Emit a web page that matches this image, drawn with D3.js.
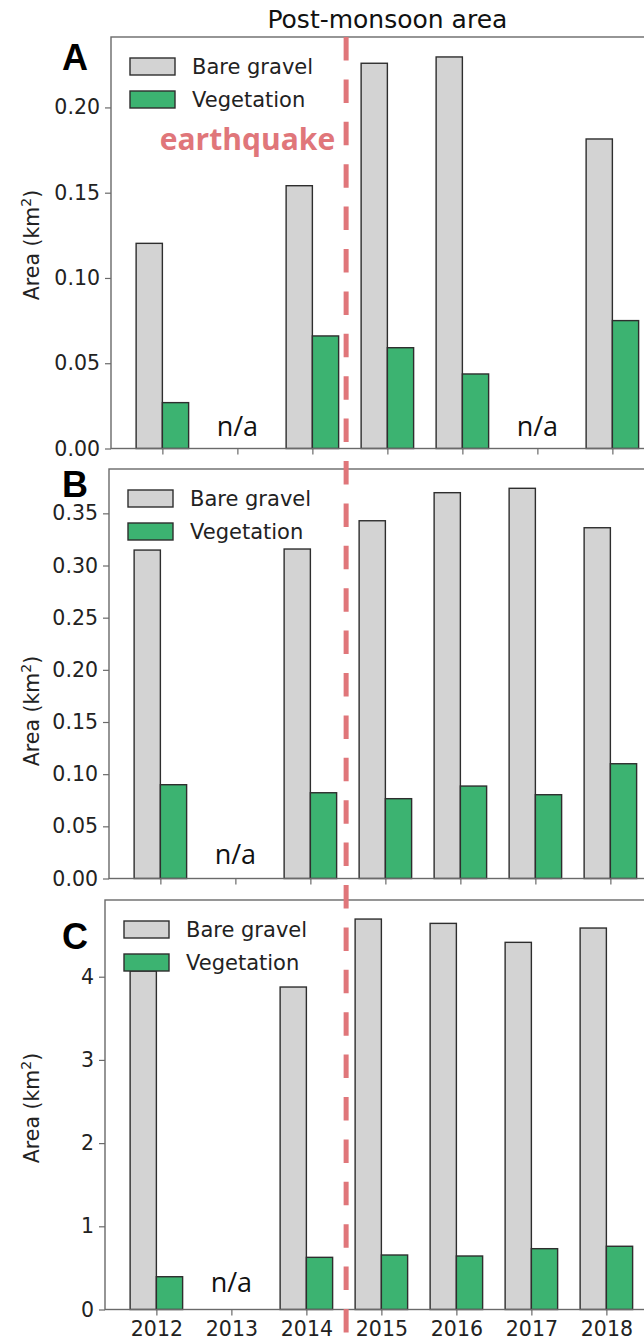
<!DOCTYPE html>
<html>
<head>
<meta charset="utf-8">
<script src="https://cdn.jsdelivr.net/npm/d3@7"></script>
<style>
  html, body { margin: 0; padding: 0; background: #fff; }
  svg { display: block; }
</style>
</head>
<body>
<svg id="chart" width="644" height="1340"></svg>
<script>
// Survey years
const years = [2012, 2013, 2014, 2015, 2016, 2017, 2018];
const seriesNames = ["Bare gravel", "Vegetation"];

// Panel A: post-monsoon area (km²); null = no survey
const gravelA = [0.1203, null, 0.1541, 0.2259, 0.2296, null, 0.1815];
const vegA    = [0.0269, null, 0.0660, 0.0591, 0.0437, null, 0.0750];
// Panel B
const gravelB = [0.3148, null, 0.3158, 0.3429, 0.3698, 0.3740, 0.3362];
const vegB    = [0.0899, null, 0.0822, 0.0765, 0.0886, 0.0803, 0.1100];
// Panel C
const gravelC = [4.068, null, 3.876, 4.693, 4.641, 4.413, 4.585];
const vegC    = [0.394, null, 0.627, 0.655, 0.643, 0.731, 0.760];

// Y tick values per panel
const ticksA = [0, 0.05, 0.10, 0.15, 0.20];
const ticksB = [0, 0.05, 0.10, 0.15, 0.20, 0.25, 0.30, 0.35];
const ticksC = [0, 1, 2, 3, 4];

// Years with no data
const naA = [2013, 2017];
const naB = [2013];
const naC = [2013];

const panelLetters = ["A", "B", "C"];
const titleText = "Post-monsoon area";
const eventLabel = "earthquake";
const eventYear = 2014.45;

const GRAY = "#d3d3d3", GREEN = "#3cb371", EDGE = "#2e2e2e", SPINE = "#6a6a6a";
const EQ_COLOR = "#e0767a";
const TICK_FONT = "'DejaVu Sans', sans-serif";

const panels = [
  { letter: panelLetters[0], gravel: gravelA, veg: vegA, ticks: ticksA, na: naA,
    yMax: 0.2413, top: 37, base: 448.5, axisX: 111, fmt: d3.format(".2f"),
    showYears: false, labelY: 245, naOff: 12.5, letterY: 70 },
  { letter: panelLetters[1], gravel: gravelB, veg: vegB, ticks: ticksB, na: naB,
    yMax: 0.3925, top: 469, base: 878.5, axisX: 109, fmt: d3.format(".2f"),
    showYears: false, labelY: 711, naOff: 14.5, letterY: 497 },
  { letter: panelLetters[2], gravel: gravelC, veg: vegC, ticks: ticksC, na: naC,
    yMax: 4.922, top: 900, base: 1309.5, axisX: 105, fmt: d3.format("d"),
    showYears: true, labelY: 1108, naOff: 17.5, letterY: 949 }
];

const svg = d3.select("#chart");
svg.append("rect").attr("width", 644).attr("height", 1340).attr("fill", "#fff");

const BAR_W = 0.35;          // bar width in year units
const PX_PER_YEAR = 75;
const pad = 0.685;           // x padding beyond first/last bar centre

panels.forEach((p) => {
  const x = d3.scaleLinear()
    .domain([years[0] - pad, years[years.length - 1] + pad])
    .range([p.axisX, p.axisX + PX_PER_YEAR * (years[years.length - 1] - years[0] + 2 * pad)]);
  const y = d3.scaleLinear().domain([0, p.yMax]).range([p.base, p.top]);
  p.x = x;

  const g = svg.append("g");

  // bars
  const rows = years.map((yr, i) => ({ yr, gravel: p.gravel[i], veg: p.veg[i] }));
  g.selectAll("rect.gravel").data(rows.filter(d => d.gravel != null)).join("rect")
    .attr("class", "gravel")
    .attr("x", d => x(d.yr - BAR_W)).attr("width", d => x(d.yr) - x(d.yr - BAR_W))
    .attr("y", d => y(d.gravel)).attr("height", d => y(0) - y(d.gravel))
    .attr("fill", GRAY).attr("stroke", EDGE).attr("stroke-width", 1.4);
  g.selectAll("rect.veg").data(rows.filter(d => d.veg != null)).join("rect")
    .attr("class", "veg")
    .attr("x", d => x(d.yr)).attr("width", d => x(d.yr + BAR_W) - x(d.yr))
    .attr("y", d => y(d.veg)).attr("height", d => y(0) - y(d.veg))
    .attr("fill", GREEN).attr("stroke", EDGE).attr("stroke-width", 1.4);

  // frame (left, top, bottom spines; right spine falls outside the page)
  const xr = x.range();
  g.append("rect").attr("x", xr[0]).attr("y", p.top)
    .attr("width", xr[1] - xr[0]).attr("height", p.base - p.top)
    .attr("fill", "none").attr("stroke", SPINE).attr("stroke-width", 1.4);

  // y axis
  const yAxis = g.append("g").attr("transform", `translate(${xr[0]},0)`)
    .call(d3.axisLeft(y).tickValues(p.ticks).tickFormat(p.fmt).tickSize(6).tickPadding(5));
  yAxis.select(".domain").remove();
  yAxis.selectAll("line").attr("stroke", SPINE).attr("stroke-width", 1.2);
  yAxis.selectAll("text").attr("font-family", TICK_FONT).attr("font-size", 20.5).attr("fill", "#222");

  // x axis
  const xAxis = g.append("g").attr("transform", `translate(0,${p.base})`)
    .call(d3.axisBottom(x).tickValues(years)
      .tickFormat(p.showYears ? d3.format("d") : () => "")
      .tickSize(6).tickPadding(6));
  xAxis.select(".domain").remove();
  xAxis.selectAll("line").attr("stroke", SPINE).attr("stroke-width", 1.2);
  xAxis.selectAll("text").attr("font-family", TICK_FONT).attr("font-size", 20.5).attr("fill", "#222");

  // y label
  const yl = g.append("text")
    .attr("transform", `translate(39,${p.labelY}) rotate(-90)`)
    .attr("text-anchor", "middle")
    .attr("font-family", TICK_FONT).attr("font-size", 20.5).attr("fill", "#222");
  yl.append("tspan").text("Area (km");
  yl.append("tspan").attr("font-size", 14).attr("dy", -8).text("2");
  yl.append("tspan").attr("dy", 8).text(")");

  // legend
  const lg = g.append("g").attr("transform", `translate(${xr[0] + 19},${p.top + 21})`);
  seriesNames.forEach((name, i) => {
    lg.append("rect").attr("x", 0).attr("y", i * 33).attr("width", 45).attr("height", 17)
      .attr("fill", i === 0 ? GRAY : GREEN).attr("stroke", EDGE).attr("stroke-width", 1.4);
    lg.append("text").attr("x", 62).attr("y", i * 33 + 16)
      .attr("font-family", TICK_FONT).attr("font-size", 21).attr("fill", "#222").text(name);
  });

  // n/a markers
  g.selectAll("text.na").data(p.na).join("text").attr("class", "na")
    .attr("x", d => x(d)).attr("y", p.base - p.naOff)
    .attr("text-anchor", "middle")
    .attr("font-family", "'Open Sans', sans-serif").attr("font-size", 27).attr("fill", "#111")
    .text("n/a");

  // panel letter
  g.append("text").attr("x", 62).attr("y", p.letterY)
    .attr("font-family", "'Liberation Sans', Arial, sans-serif").attr("font-weight", "bold")
    .attr("font-size", 36).attr("fill", "#000").text(p.letter);
});

// title centred over the top panel
const xA = panels[0].x;
svg.append("text").attr("x", (xA.range()[0] + xA.range()[1]) / 2).attr("y", 28)
  .attr("text-anchor", "middle").attr("font-family", TICK_FONT).attr("font-size", 25)
  .attr("fill", "#111").text(titleText);

// earthquake marker across all panels
const eqX = xA(eventYear);
svg.append("line").attr("x1", eqX).attr("x2", eqX).attr("y1", panels[0].top).attr("y2", 1340)
  .attr("stroke", EQ_COLOR).attr("stroke-width", 5).attr("stroke-dasharray", "23.5 18.9");
svg.append("text").attr("x", eqX - 11).attr("y", 150).attr("text-anchor", "end")
  .attr("font-family", "'Open Sans', sans-serif").attr("font-weight", "bold")
  .attr("font-size", 30).attr("fill", EQ_COLOR).text(eventLabel);
</script>
</body>
</html>
